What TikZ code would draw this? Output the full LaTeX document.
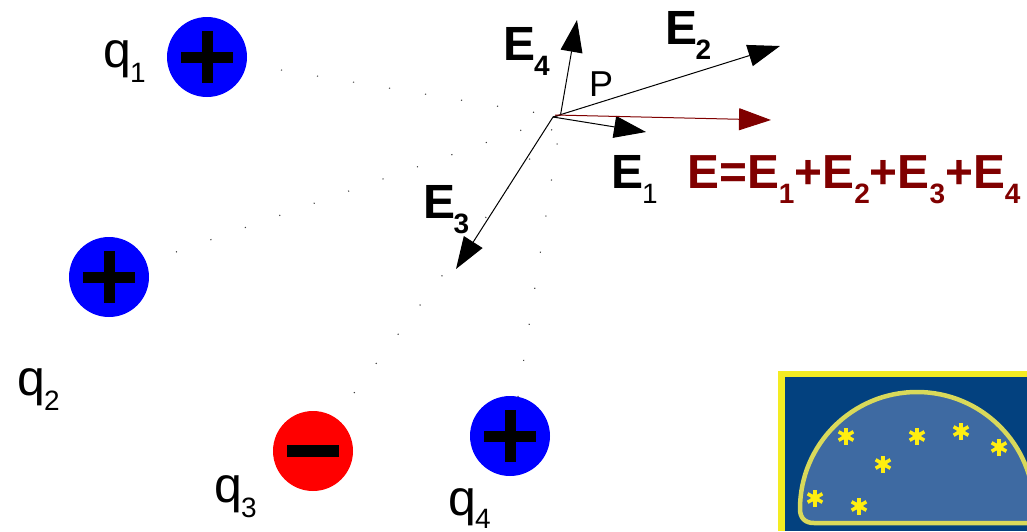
\documentclass[tikz,border=0pt]{standalone}
\usepackage{fontspec}
\setmainfont{Liberation Sans}
\usetikzlibrary{arrows.meta}
\definecolor{darkred}{HTML}{800000}
\definecolor{stampyellow}{HTML}{F4EC22}
\definecolor{stampstar}{HTML}{FFEE10}
\definecolor{stampblue}{HTML}{03417F}
\definecolor{domeblue}{HTML}{3E6AA2}
\definecolor{domeline}{HTML}{D9D95A}
\newcommand{\qlab}[2][-15pt]{\fontsize{50}{50}\selectfont q\kern-1pt\raisebox{#1}{\fontsize{28}{28}\selectfont #2}}
\newcommand{\elab}[1]{\fontsize{48}{48}\selectfont\bfseries E\kern-1.5pt\raisebox{-15pt}{\fontsize{28}{28}\selectfont #1}}
\newcommand{\esub}[1]{E\raisebox{-15pt}{\fontsize{28}{28}\selectfont #1}}
\tikzset{
  x=1pt,y=-1pt,
  chargebase/.style={circle,minimum size=80pt,inner sep=0,draw=none},
  poscharge/.style={chargebase,fill=blue},
  negcharge/.style={chargebase,fill=red},
  lbl/.style={inner sep=0,anchor=base west,text=black},
  vec/.style={line width=1pt,-{Triangle[length=32pt,width=22pt]}},
  guide/.style={line width=1.1pt,black!75,dash pattern=on 1.1pt off 35.4pt},
  signbar/.style={fill=black,draw=none}
}
\begin{document}
\begin{tikzpicture}
\useasboundingbox (0,0) rectangle (1027,531);
% charges
\node[poscharge] (q1) at (207,57) {};
\node[poscharge] (q2) at (109,277) {};
\node[negcharge] (q3) at (313,451) {};
\node[poscharge] (q4) at (510,436) {};
\foreach \c in {q1,q2,q4}{
  \fill[signbar] ([shift={(-26,-5.5)}]\c.center) rectangle ([shift={(26,5.5)}]\c.center);
  \fill[signbar] ([shift={(-5.5,-26)}]\c.center) rectangle ([shift={(5.5,26)}]\c.center);
}
\fill[signbar] ([shift={(-26,-6)}]q3.center) rectangle ([shift={(26,6)}]q3.center);
% point P and ends
\coordinate (pa) at (553,117);
\coordinate (pb) at (560.5,115);
\coordinate (pc) at (555,115);
\coordinate (t1) at (646,132);
\coordinate (t2) at (780,46);
\coordinate (t3) at (456,269);
\coordinate (t4) at (577,20);
\coordinate (tr) at (771,120);
% guides
\coordinate (g1a) at (281,70);   \coordinate (g1b) at (550,115);
\coordinate (g2a) at (176,252);  \coordinate (g2b) at (550,120);
\coordinate (g3a) at (354,393);  \coordinate (g3b) at (556,124);
\coordinate (g4a) at (518,397);  \coordinate (g4b) at (560,125);
\draw[guide] (g1a) -- (g1b);
\draw[guide] (g2a) -- (g2b);
\draw[guide] (g3a) -- (g3b);
\draw[guide] (g4a) -- (g4b);
% vectors
\draw[line width=1pt] (pa) -- (pb);
\draw[vec] (pa) -- (t1);
\draw[vec] (pa) -- (t2);
\draw[vec] (pa) -- (t3);
\draw[vec] (pb) -- (t4);
\draw[vec,darkred] (pc) -- (tr);
% labels
\node[lbl] (lq1) at (103,67) {\qlab{1}};
\node[lbl] (lq2) at (17,395) {\qlab{2}};
\node[lbl] (lq3) at (214,502) {\qlab{3}};
\node[lbl] (lq4) at (448,515.5) {\qlab[-12.5pt]{4}};
\node[lbl] (le4) at (503.5,60) {\elab{4}};
\node[lbl] (le2) at (665,44) {\elab{2}};
\node[lbl] (le3) at (423,218) {\elab{3}};
\node[lbl] (le1) at (611.5,188) {\fontsize{48}{48}\selectfont\bfseries E\kern-1.5pt\raisebox{-15pt}{\fontsize{28}{28}\selectfont\mdseries 1}};
\node[lbl] (lp) at (589,96) {\fontsize{36}{36}\selectfont P};
\node[lbl,text=darkred] (lsum) at (687,188) {\fontsize{47.8}{48}\selectfont\bfseries E=\esub{1}+\esub{2}+\esub{3}+\esub{4}};
% emblem
\begin{scope}
\clip (778,371) rectangle (1027,531);
\fill[stampyellow] (778,371) rectangle (1027,531);
\fill[stampblue] (785,377) rectangle (1027,531);
\draw[domeline,fill=domeblue,line width=4.5pt]
  (800,509) arc[start angle=180,end angle=360,radius=117] -- (1034,523) -- (814,523)
  .. controls (805,523) and (800,518) .. (800,509) -- cycle;
\foreach \sx/\sy in {846/436,917/436,961/431,999/447,883/464,815/498,859/506}{
  \fill[stampstar] (\sx,\sy) circle[radius=4.5];
  \foreach \a in {90,30,150}
    \draw[stampstar,line width=3.5pt] ([shift={(\a:8.5)}]\sx,\sy) -- ([shift={(\a+180:8.5)}]\sx,\sy);
}
\end{scope}
\end{tikzpicture}
\end{document}
